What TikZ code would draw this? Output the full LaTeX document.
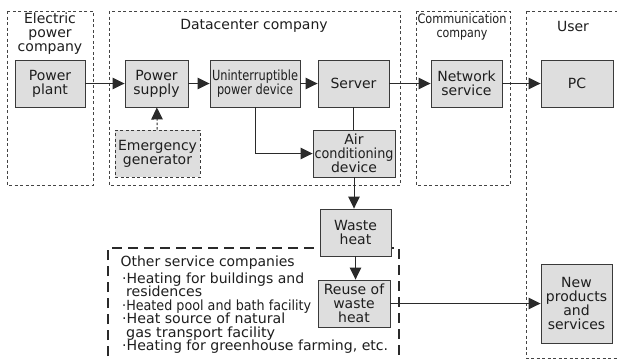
\documentclass[tikz,border=0pt]{standalone}
\usepackage{fontspec}
\setmainfont{DejaVu Sans}
\usepackage{graphicx}
\usetikzlibrary{arrows.meta}
\newcommand{\sqz}[2]{\resizebox{#1}{\height}{#2}}
\definecolor{boxfill}{HTML}{DEDEDE}
\definecolor{boxline}{HTML}{3A3A3A}
\definecolor{regline}{HTML}{444444}
\definecolor{lnc}{HTML}{2A2A2A}
\definecolor{txt}{HTML}{1E1E1E}
\begin{document}
\begin{tikzpicture}[x=1pt,y=-1pt,
  box/.style={draw=boxline, fill=boxfill, line width=0.9pt, minimum height=47pt, inner sep=0pt, align=center, font=\fontsize{14}{14}\selectfont, text=txt},
  region/.style={draw=regline, dash pattern=on 3pt off 2.5pt, line width=0.8pt},
  bigregion/.style={draw=lnc, dash pattern=on 10pt off 6pt, line width=1.6pt},
  conn/.style={draw=lnc, line width=1pt},
  arr/.style={conn, -{Triangle[length=12pt,width=11.5pt]}},
  lbl/.style={font=\fontsize{14}{14}\selectfont, align=center, text=txt, inner sep=0pt},
  otxt/.style={font=\fontsize{14}{14}\selectfont, anchor=base west, text=txt, inner sep=0pt}
]
\fill[white] (0,0) rectangle (617,360);
\useasboundingbox (0,0) rectangle (617,360);

% regions
\draw[region] (7,11) rectangle (93,185);
\draw[region] (109,11) rectangle (400,185);
\draw[region] (416,11) rectangle (510,185);
\draw[region] (526,11) rectangle (640,358);
\draw[bigregion] (108,372) -- (108,248) -- (399,248) -- (399,372);

% region labels
\node[lbl] (lelec) at (50,34) {Electric\\power\\company};
\node[lbl] (ldc) at (254,26) {Datacenter company};
\node[lbl, font=\fontsize{13}{13.5}\selectfont] (lcomm) at (462,27) {\sqz{89pt}{Communication}\\\sqz{51pt}{company}};
\node[lbl] (luser) at (573,26) {User};

% nodes
\node[box, minimum width=70pt] (pp) at (50,83.5) {Power\\plant};
\node[box, minimum width=63pt] (ps) at (156.5,83.5) {Power\\supply};
\node[box, minimum width=90pt] (ups) at (255,83.5) {\sqz{86pt}{Uninterruptible}\\\sqz{76pt}{power device}};
\node[box, minimum width=71pt] (srv) at (353.5,83.5) {Server};
\node[box, minimum width=71pt] (net) at (466.5,83.5) {Network\\service};
\node[box, minimum width=72pt] (pc) at (577,83.5) {PC};
\node[box, dash pattern=on 3pt off 2.5pt, minimum width=85pt] (gen) at (157.5,153.5) {Emergency\\generator};
\node[box, minimum width=82pt] (ac) at (354,153.5) {Air\\\sqz{79pt}{conditioning}\\device};
\node[box, minimum width=71pt] (wh) at (355.5,232.5) {Waste\\heat};
\node[box, minimum width=72pt] (reuse) at (354,303.5) {Reuse of\\waste\\heat};
\node[box, minimum width=71pt, minimum height=79pt] (np) at (576.5,303.5) {New\\products\\and\\services};

% other services text
\node[otxt] (o0) at (120.5,266) {\sqz{174pt}{Other service companies}};
\node[otxt] (o1) at (122,283) {\sqz{182pt}{·Heating for buildings and}};
\node[otxt] (o2) at (126,296.5) {\sqz{76pt}{residences}};
\node[otxt] (o3) at (122,310) {\sqz{189pt}{·Heated pool and bath facility}};
\node[otxt] (o4) at (122,323.5) {\sqz{163pt}{·Heat source of natural}};
\node[otxt] (o5) at (126,337) {\sqz{149pt}{gas transport facility}};
\node[otxt] (o6) at (122,350.5) {\sqz{266pt}{·Heating for greenhouse farming, etc.}};

% connectors
\draw[arr] (pp) -- (ps);
\draw[arr] (ps) -- (ups);
\draw[arr] (ups) -- (srv);
\draw[arr] (srv) -- (net);
\draw[arr] (net) -- (pc);
\draw[arr, dash pattern=on 2.5pt off 2pt] (gen) -- (ps);
\draw[arr] (ups.south) |- (ac.west);
\draw[conn] (srv.south) -- (srv.south |- ac.north);
\draw[arr] (ac.south) -- (ac.south |- wh.north);
\draw[arr] (wh.south) -- (wh.south |- reuse.north);
\draw[arr] (reuse.east) -- (reuse.east -| np.west);
\end{tikzpicture}
\end{document}
